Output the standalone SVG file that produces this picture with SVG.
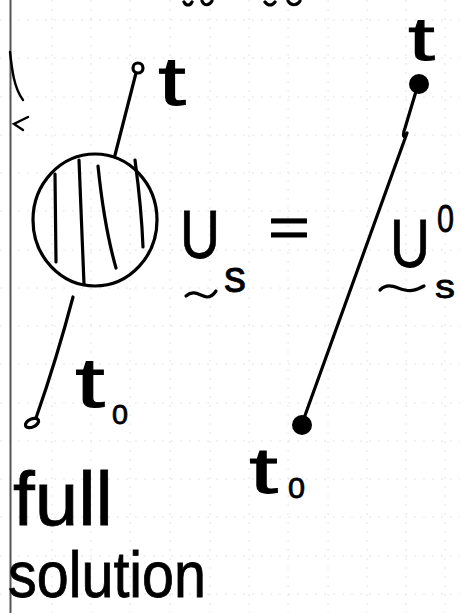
<svg xmlns="http://www.w3.org/2000/svg" width="460" height="613" viewBox="0 0 460 613">
<defs>
<style>
.ink{fill:none;stroke:#000;stroke-width:3.2;stroke-linecap:round;stroke-linejoin:round}
.thin{fill:none;stroke:#000;stroke-width:2.4;stroke-linecap:round}
.grid{stroke:#e4e4e4;stroke-width:1;stroke-dasharray:2 7}
.hw{font-family:"Liberation Sans","DejaVu Sans",sans-serif;fill:#000;stroke:#000;stroke-width:0.8}
</style>
</defs>
<rect width="460" height="613" fill="#fff"/>
<g id="grid">
<path class="grid" d="M52 0V613M91 0V613M130 0V613M170 0V613M210 0V613M249 0V613M288 0V613M328 0V613M367 0V613M406 0V613M445 0V613"/>
<path class="grid" d="M0 20H460M0 58H460M0 97H460M0 135H460M0 173H460M0 211H460M0 250H460M0 288H460M0 326H460M0 364H460M0 403H460M0 441H460M0 479H460M0 517H460M0 556H460M0 594H460"/>
</g>
<line x1="10.5" y1="0" x2="10.5" y2="613" stroke="#555" stroke-width="2"/>
<g id="margin-marks">
<path class="thin" d="M10 52 C12 70 14 88 23 100"/>
<path class="thin" d="M28 117 L14 124 L23 130"/>
<path class="ink" d="M184 2 C186 6 190 6 192 2 M202 1 C204 6 209 6 212 1"/>
<path class="ink" d="M265 2 C268 6 272 6 275 2 M288 1 C291 6 297 6 300 1"/>
</g>
<g id="full-solution-node">
<ellipse class="ink" cx="95" cy="220" rx="62" ry="66"/>
<path class="ink" d="M55 174 L56 262 M79 160 L84 284 M98 166 C102 205 108 240 116 268 M135 160 C139 190 142 220 143 247"/>
<text class="hw" x="180" y="258" font-size="68" textLength="40" lengthAdjust="spacingAndGlyphs">U</text>
<text class="hw" x="224" y="292" font-size="44" textLength="22" lengthAdjust="spacingAndGlyphs">s</text>
<path class="ink" d="M186 296 C194 289 200 296 207 297 C211 297 214 294 216 291"/>
</g>
<text id="equals" class="hw" x="268" y="247" font-size="58" textLength="42" lengthAdjust="spacingAndGlyphs">=</text>
<g id="free-path-node">
<text class="hw" x="390" y="267" font-size="68" textLength="40" lengthAdjust="spacingAndGlyphs">U</text>
<text class="hw" x="437" y="232" font-size="38" textLength="17" lengthAdjust="spacingAndGlyphs">0</text>
<text class="hw" x="435" y="298" font-size="34" textLength="20" lengthAdjust="spacingAndGlyphs">s</text>
<path class="ink" d="M380 290 C388 282 396 288 405 290 C412 292 418 289 424 286"/>
</g>
<g id="connectors">
<path class="ink" d="M115 155 L136 73"/>
<path class="ink" d="M73 297 C63 335 50 378 36 418"/>
<path class="ink" d="M417 88 L405 128 C402 136 404 140 407 133 L303 421"/>
</g>
<g id="endpoint-t-left">
<ellipse class="ink" cx="138" cy="68" rx="5" ry="5"/>
<text class="hw" x="158" y="105" font-size="68" textLength="28" lengthAdjust="spacingAndGlyphs">t</text>
</g>
<g id="endpoint-t0-left">
<ellipse class="ink" cx="32" cy="423" rx="7" ry="4" transform="rotate(-25 32 423)"/>
<text class="hw" x="75" y="407" font-size="70" textLength="30" lengthAdjust="spacingAndGlyphs">t</text>
<text class="hw" x="112" y="424" font-size="28" textLength="16" lengthAdjust="spacingAndGlyphs">0</text>
</g>
<g id="endpoint-t-right">
<circle cx="419" cy="84" r="10" fill="#000"/>
<text class="hw" x="408" y="60" font-size="62" textLength="27" lengthAdjust="spacingAndGlyphs">t</text>
</g>
<g id="endpoint-t0-right">
<circle cx="302" cy="425" r="10" fill="#000"/>
<text class="hw" x="249" y="493" font-size="64" textLength="29" lengthAdjust="spacingAndGlyphs">t</text>
<text class="hw" x="288" y="498" font-size="29" textLength="17" lengthAdjust="spacingAndGlyphs">0</text>
</g>
<g id="caption">
<text class="hw" x="13" y="525" font-size="76" textLength="100" lengthAdjust="spacingAndGlyphs">full</text>
<text class="hw" x="8" y="597" font-size="64" textLength="198" lengthAdjust="spacingAndGlyphs">solution</text>
</g>
</svg>
